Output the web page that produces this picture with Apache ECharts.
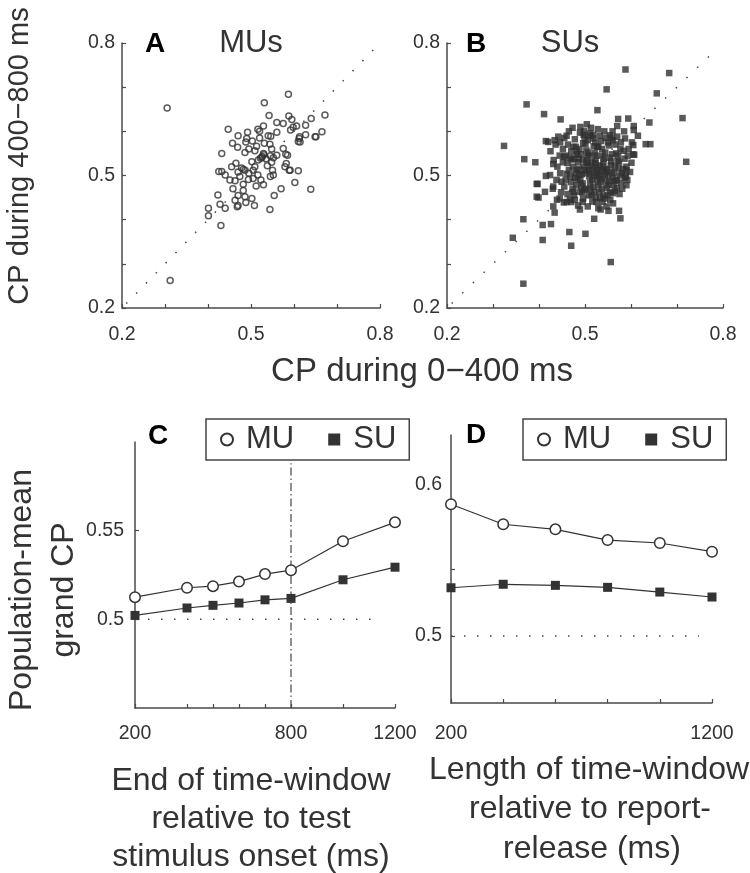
<!DOCTYPE html>
<html>
<head>
<meta charset="utf-8">
<script src="https://cdn.jsdelivr.net/npm/echarts@6/dist/echarts.min.js"></script>
<style>
html,body{margin:0;padding:0;background:#fff;}
#chart{width:750px;height:873px;}
</style>
</head>
<body>
<div id="chart"></div>
<script>
// ---------- DATA ----------
// Panel A: multi-units (MUs), [CP 0-400 ms, CP 400-800 ms]
const muScatter = [
[0.305,0.653],[0.312,0.262],
[0.587,0.684],[0.531,0.665],[0.542,0.636],[0.588,0.635],[0.595,0.627],[0.575,0.618],[0.598,0.609],[0.640,0.629],[0.672,0.637],[0.665,0.599],[0.651,0.588],[0.627,0.614],[0.606,0.612],[0.613,0.588],[0.614,0.576],
[0.447,0.605],[0.492,0.598],[0.516,0.605],[0.529,0.612],[0.520,0.600],[0.560,0.598],[0.546,0.589],[0.490,0.584],[0.488,0.576],[0.612,0.584],[0.627,0.592],[0.649,0.588],
[0.610,0.577],[0.592,0.603],[0.457,0.573],[0.469,0.564],[0.432,0.550],[0.486,0.552],[0.509,0.556],[0.513,0.566],[0.531,0.573],[0.544,0.571],[0.548,0.560],[0.529,0.550],[0.525,0.541],[0.560,0.546],[0.575,0.561],[0.581,0.548],[0.579,0.520],[0.591,0.512],[0.610,0.511],[0.602,0.484],[0.639,0.469],[0.570,0.470],[0.554,0.455],[0.544,0.423],
[0.465,0.528],[0.482,0.514],[0.478,0.517],[0.486,0.512],[0.502,0.531],[0.509,0.520],[0.432,0.509],[0.425,0.509],[0.440,0.501],[0.451,0.490],[0.463,0.488],[0.474,0.498],[0.482,0.480],[0.494,0.491],[0.505,0.493],[0.516,0.501],[0.523,0.490],[0.512,0.476],[0.529,0.479],[0.538,0.522],[0.552,0.501],[0.550,0.512],
[0.482,0.466],[0.486,0.452],[0.502,0.448],[0.508,0.432],[0.488,0.439],[0.468,0.429],[0.470,0.432],[0.463,0.444],[0.423,0.456],[0.428,0.435],[0.440,0.426],[0.401,0.426],[0.401,0.409],[0.430,0.387],
[0.526,0.543],[0.530,0.547],[0.522,0.539],[0.545,0.545],[0.552,0.540],[0.548,0.530],[0.535,0.538],
[0.585,0.546],[0.582,0.527],[0.589,0.512],[0.455,0.520],[0.470,0.508],[0.495,0.505],[0.505,0.512],[0.517,0.535],[0.540,0.590],[0.520,0.585],[0.503,0.578],[0.470,0.590],[0.560,0.620],[0.495,0.560],[0.545,0.498],[0.458,0.470],[0.470,0.455]
];
// Panel B: single units (SUs)
const suScatter = [
[0.588,0.740],[0.683,0.732],[0.547,0.695],[0.656,0.686],[0.373,0.661],[0.527,0.648],[0.411,0.639],[0.447,0.627],[0.572,0.628],[0.594,0.629],[0.640,0.620],[0.712,0.630],[0.606,0.612],[0.606,0.603],[0.324,0.567],[0.368,0.537],[0.392,0.530],[0.720,0.531],[0.632,0.571],[0.642,0.571],
[0.366,0.401],[0.343,0.359],[0.408,0.388],[0.426,0.390],[0.408,0.354],[0.466,0.372],[0.470,0.341],[0.501,0.368],[0.556,0.304],[0.366,0.255],[0.520,0.402],[0.577,0.403],[0.574,0.420],[0.551,0.420],[0.534,0.423],[0.489,0.423],[0.506,0.430],[0.415,0.499],[0.395,0.481],[0.415,0.578],[0.434,0.580],[0.436,0.570],[0.607,0.547],[0.504,0.616],
[0.473,0.608],[0.489,0.597],[0.511,0.595],[0.518,0.584],[0.529,0.565],[0.554,0.591],[0.561,0.580],[0.570,0.588],[0.587,0.584],[0.605,0.569],[0.605,0.548],[0.601,0.529],[0.590,0.512],[0.589,0.499],[0.590,0.478],[0.575,0.458],[0.561,0.460],[0.569,0.490],[0.543,0.448],[0.529,0.426],[0.561,0.437],
[0.420,0.576],[0.442,0.588],[0.454,0.542],[0.431,0.526],[0.424,0.501],[0.397,0.481],[0.413,0.463],[0.395,0.452],[0.399,0.450],[0.431,0.475],[0.449,0.486],[0.439,0.445],[0.431,0.430],[0.434,0.416],[0.454,0.439],[0.467,0.445],[0.475,0.463],[0.460,0.504],[0.471,0.536],[0.482,0.554],[0.496,0.573],[0.475,0.565],
[0.452,0.560],[0.458,0.545],[0.462,0.528],[0.465,0.512],[0.468,0.498],[0.470,0.485],[0.473,0.470],[0.476,0.455],[0.478,0.582],[0.480,0.565],[0.483,0.548],[0.485,0.530],[0.487,0.515],[0.488,0.502],[0.490,0.490],[0.492,0.476],[0.494,0.462],[0.496,0.448],[0.498,0.600],[0.499,0.586],[0.501,0.572],[0.503,0.557],[0.505,0.543],[0.506,0.528],[0.508,0.512],[0.509,0.498],[0.511,0.484],[0.512,0.470],[0.514,0.456],[0.516,0.441],[0.518,0.592],[0.519,0.566],[0.521,0.551],[0.523,0.536],[0.524,0.520],[0.526,0.506],[0.527,0.492],[0.529,0.478],[0.531,0.463],[0.533,0.449],[0.535,0.578],[0.537,0.560],[0.538,0.545],[0.540,0.530],[0.542,0.514],[0.543,0.500],[0.545,0.486],[0.547,0.471],[0.549,0.455],[0.552,0.568],[0.554,0.540],[0.556,0.523],[0.558,0.508],[0.560,0.494],[0.562,0.479],[0.565,0.465],[0.568,0.550],[0.571,0.533],[0.573,0.516],[0.576,0.500],[0.578,0.484],[0.581,0.470],[0.584,0.556],[0.586,0.538],[0.590,0.520],
[0.468,0.541],[0.474,0.520],[0.479,0.505],[0.484,0.491],[0.497,0.520],[0.502,0.505],[0.515,0.530],[0.517,0.514],[0.520,0.499],[0.532,0.523],[0.534,0.508],[0.536,0.493],[0.548,0.515],[0.550,0.501],[0.553,0.487],[0.496,0.535],[0.510,0.545],[0.488,0.560],[0.527,0.565],[0.545,0.585],[0.560,0.600],[0.503,0.470],[0.520,0.463],[0.540,0.455],[0.458,0.490],[0.446,0.505],[0.440,0.520],[0.455,0.475],[0.462,0.458],[0.448,0.462],[0.470,0.440],[0.485,0.432],[0.525,0.440],[0.555,0.445],[0.565,0.520],[0.572,0.545],[0.580,0.505],[0.592,0.490],[0.595,0.560],[0.602,0.575],[0.615,0.590],[0.585,0.600],[0.570,0.612],[0.528,0.605],[0.512,0.590],[0.490,0.610],[0.465,0.600],[0.455,0.585],[0.445,0.545],[0.432,0.535],[0.425,0.555],[0.438,0.490],[0.430,0.470],[0.445,0.448],
[0.478,0.495],[0.482,0.512],[0.486,0.538],[0.491,0.548],[0.493,0.503],[0.495,0.482],[0.499,0.468],[0.500,0.512],[0.503,0.530],[0.507,0.552],[0.510,0.520],[0.513,0.505],[0.516,0.490],[0.518,0.475],[0.522,0.528],[0.525,0.545],[0.528,0.512],[0.530,0.500],[0.533,0.485],[0.536,0.470],[0.539,0.520],[0.541,0.538],[0.544,0.552],[0.546,0.508],[0.551,0.478],[0.555,0.462],[0.557,0.532],[0.559,0.548],[0.563,0.505],[0.566,0.488],[0.569,0.472],[0.574,0.530],[0.577,0.560],[0.583,0.515],[0.587,0.495],[0.463,0.570],[0.470,0.555],[0.476,0.538],[0.481,0.478],[0.489,0.463],[0.497,0.592],[0.506,0.580],[0.513,0.608],[0.522,0.575],[0.532,0.590],[0.542,0.600],[0.550,0.575],[0.558,0.585],[0.566,0.570],[0.578,0.575],[0.593,0.545],[0.598,0.508],[0.508,0.455],[0.523,0.450],[0.538,0.440],[0.547,0.430],[0.495,0.440],[0.478,0.445],[0.460,0.440],[0.452,0.530],[0.446,0.575],[0.460,0.590]
];
const diagonal = [[0.21,0.21],[0.79,0.79]];
const scatterTicks = [0.2,0.3,0.4,0.5,0.6,0.7,0.8];
const scatterLabels = [0.2,0.5,0.8];

// Panel C: end of time-window relative to test stimulus onset (ms)
const cX = [200,400,500,600,700,800,1000,1200];
const cMU = [0.5125,0.5178,0.5187,0.5213,0.5255,0.5277,0.5440,0.5547];
const cSU = [0.5022,0.5064,0.5079,0.5092,0.5110,0.5118,0.5223,0.5294];
const cXTicks = [200,400,500,600,700,800,1000,1200];
const cXLabels = [200,800,1200];
const cYTicks = [0.5,0.55];
const cYLabels = [0.5,0.55];
const cChance = [[200,0.5],[1150,0.5]];
const cMarker = [[800,0.45],[800,0.588]];

// Panel D: length of time-window relative to report-release (ms)
const dX = [200,400,600,800,1000,1200];
const dMU = [0.5983,0.5834,0.5796,0.5716,0.5694,0.5629];
const dSU = [0.5360,0.5386,0.5378,0.5363,0.5328,0.5291];
const dXTicks = [200,400,600,800,1000,1200];
const dXLabels = [200,1200];
const dYTicks = [0.5,0.55,0.6];
const dYLabels = [0.5,0.6];
const dChance = [[200,0.5],[1150,0.5]];

// ---------- STYLE ----------
const FONT = '"Liberation Sans", Arial, Helvetica, sans-serif';
const AX = '#4a4a4a';
const TXT = '#333333';

function axisBase(gridIndex, min, max, ticks, labels, margin, extraLabel) {
  return {
    type: 'value', gridIndex, min, max,
    axisLine: {show: true, lineStyle: {color: AX, width: 1.5}},
    axisTick: {show: true, inside: true, length: 4, customValues: ticks, lineStyle: {color: AX, width: 1.2}},
    axisLabel: Object.assign({show: true, customValues: labels, margin, color: TXT, fontSize: 19.5, fontFamily: FONT,
      formatter: v => String(v)}, extraLabel || {}),
    splitLine: {show: false}
  };
}

const chart = echarts.init(document.getElementById('chart'), null, {renderer: 'canvas'});

const pairs = (xs, ys) => xs.map((x, i) => [x, ys[i]]);

const openCircle = {color: '#ffffff', borderColor: '#333', borderWidth: 1.5};
const filledSq = {color: '#333', borderWidth: 0};

function legendAt(left) {
  return {left, top: 419, orient: 'horizontal', selectedMode: false,
    data: [{name: 'MU', icon: 'circle'}, {name: 'SU', icon: 'rect'}],
    itemWidth: 12, itemHeight: 12, itemGap: 34,
    padding: [5, 13, 5, 14], borderColor: '#444', borderWidth: 1.5, backgroundColor: '#fff',
    textStyle: {fontSize: 31, fontFamily: FONT, color: TXT, padding: [2, 0, 0, 8]}};
}

const option = {
  animation: false,
  backgroundColor: '#fff',
  grid: [
    {left: 122, top: 43, width: 258, height: 265},
    {left: 447, top: 43, width: 276, height: 265},
    {left: 135, top: 442, width: 260, height: 266},
    {left: 451, top: 435, width: 261, height: 268}
  ],
  xAxis: [
    axisBase(0, 0.2, 0.8, scatterTicks, scatterLabels, 17),
    axisBase(1, 0.2, 0.8, scatterTicks, scatterLabels, 17),
    axisBase(2, 200, 1200, cXTicks, cXLabels, 16),
    axisBase(3, 200, 1200, dXTicks, dXLabels, 21)
  ],
  yAxis: [
    axisBase(0, 0.2, 0.8, scatterTicks, scatterLabels, 7),
    axisBase(1, 0.2, 0.8, scatterTicks, scatterLabels, 7),
    axisBase(2, 0.45, 0.6, cYTicks, cYLabels, 11),
    axisBase(3, 0.45, 0.65, dYTicks, dYLabels, 9, {
      formatter: v => (Math.abs(v - 0.6) < 1e-9 ? '{hi|0.6}' : String(v)),
      rich: {hi: {fontSize: 19.5, fontFamily: FONT, color: TXT, padding: [0, 0, 34, 0]}}
    })
  ],
  legend: [legendAt(206), legendAt(523)],
  series: [
    // A
    {type: 'line', name: 'diagA', xAxisIndex: 0, yAxisIndex: 0, data: diagonal, symbol: 'none', silent: true,
     lineStyle: {color: '#444', width: 1.5, type: [1.5, 12.6]}},
    {type: 'scatter', name: 'MUs', xAxisIndex: 0, yAxisIndex: 0, data: muScatter, symbol: 'circle', symbolSize: 6,
     itemStyle: {color: 'rgba(0,0,0,0)', borderColor: '#333', borderWidth: 1.5}},
    // B
    {type: 'line', name: 'diagB', xAxisIndex: 1, yAxisIndex: 1, data: diagonal, symbol: 'none', silent: true,
     lineStyle: {color: '#444', width: 1.5, type: [1.5, 13.3]}},
    {type: 'scatter', name: 'SUs', xAxisIndex: 1, yAxisIndex: 1, data: suScatter, symbol: 'rect', symbolSize: 6.5,
     itemStyle: {color: '#303030'}},
    // C
    {type: 'line', name: 'chanceC', xAxisIndex: 2, yAxisIndex: 2, data: cChance, symbol: 'none', silent: true,
     lineStyle: {color: '#444', width: 1.5, type: [1.5, 11.5]}},
    {type: 'line', name: 'markC', xAxisIndex: 2, yAxisIndex: 2, data: cMarker, symbol: 'none', silent: true,
     lineStyle: {color: '#444', width: 1.2, type: [8, 3, 1.5, 3]}},
    {type: 'line', name: 'SU', xAxisIndex: 2, yAxisIndex: 2, data: pairs(cX, cSU), symbol: 'rect', symbolSize: 9,
     lineStyle: {color: '#333', width: 1.2}, itemStyle: filledSq},
    {type: 'line', name: 'MU', xAxisIndex: 2, yAxisIndex: 2, data: pairs(cX, cMU), symbol: 'circle', symbolSize: 10.5,
     lineStyle: {color: '#333', width: 1.2}, itemStyle: openCircle},
    // D
    {type: 'line', name: 'chanceD', xAxisIndex: 3, yAxisIndex: 3, data: dChance, symbol: 'none', silent: true,
     lineStyle: {color: '#444', width: 1.5, type: [1.5, 11.5]}},
    {type: 'line', name: 'SU', xAxisIndex: 3, yAxisIndex: 3, data: pairs(dX, dSU), symbol: 'rect', symbolSize: 9,
     lineStyle: {color: '#333', width: 1.2}, itemStyle: filledSq},
    {type: 'line', name: 'MU', xAxisIndex: 3, yAxisIndex: 3, data: pairs(dX, dMU), symbol: 'circle', symbolSize: 10.5,
     lineStyle: {color: '#333', width: 1.2}, itemStyle: openCircle}
  ],
  graphic: [
    {type: 'text', x: 20, y: 156, rotation: Math.PI / 2,
     style: {text: 'CP during 400\u2212800 ms', font: '29px ' + FONT, fill: TXT, textAlign: 'center', textVerticalAlign: 'middle'}},
    {type: 'text', x: 422, y: 372,
     style: {text: 'CP during 0\u2212400 ms', font: '33px ' + FONT, fill: TXT, textAlign: 'center', textVerticalAlign: 'middle'}},
    {type: 'text', x: 155, y: 44, style: {text: 'A', font: 'bold 28px ' + FONT, fill: '#000', textAlign: 'center', textVerticalAlign: 'middle'}},
    {type: 'text', x: 251, y: 43, style: {text: 'MUs', font: '31px ' + FONT, fill: TXT, textAlign: 'center', textVerticalAlign: 'middle'}},
    {type: 'text', x: 476, y: 44, style: {text: 'B', font: 'bold 28px ' + FONT, fill: '#000', textAlign: 'center', textVerticalAlign: 'middle'}},
    {type: 'text', x: 570, y: 43, style: {text: 'SUs', font: '31px ' + FONT, fill: TXT, textAlign: 'center', textVerticalAlign: 'middle'}},
    {type: 'text', x: 158, y: 436, style: {text: 'C', font: 'bold 28px ' + FONT, fill: '#000', textAlign: 'center', textVerticalAlign: 'middle'}},
    {type: 'text', x: 476, y: 435, style: {text: 'D', font: 'bold 28px ' + FONT, fill: '#000', textAlign: 'center', textVerticalAlign: 'middle'}},
    {type: 'text', x: 22, y: 590, rotation: Math.PI / 2,
     style: {text: 'Population-mean', font: '32px ' + FONT, fill: TXT, textAlign: 'center', textVerticalAlign: 'middle'}},
    {type: 'text', x: 64, y: 590, rotation: Math.PI / 2,
     style: {text: 'grand CP', font: '32px ' + FONT, fill: TXT, textAlign: 'center', textVerticalAlign: 'middle'}},
    {type: 'text', x: 251, y: 781, style: {text: 'End of time-window', font: '32px ' + FONT, fill: TXT, textAlign: 'center', textVerticalAlign: 'middle'}},
    {type: 'text', x: 251, y: 819, style: {text: 'relative to test', font: '32px ' + FONT, fill: TXT, textAlign: 'center', textVerticalAlign: 'middle'}},
    {type: 'text', x: 251, y: 857, style: {text: 'stimulus onset (ms)', font: '32px ' + FONT, fill: TXT, textAlign: 'center', textVerticalAlign: 'middle'}},
    {type: 'text', x: 589, y: 770, style: {text: 'Length of time-window', font: '32px ' + FONT, fill: TXT, textAlign: 'center', textVerticalAlign: 'middle'}},
    {type: 'text', x: 590, y: 809, style: {text: 'relative to report-', font: '32px ' + FONT, fill: TXT, textAlign: 'center', textVerticalAlign: 'middle'}},
    {type: 'text', x: 592, y: 849, style: {text: 'release (ms)', font: '32px ' + FONT, fill: TXT, textAlign: 'center', textVerticalAlign: 'middle'}}
  ]
};
chart.setOption(option);
</script>
</body>
</html>
